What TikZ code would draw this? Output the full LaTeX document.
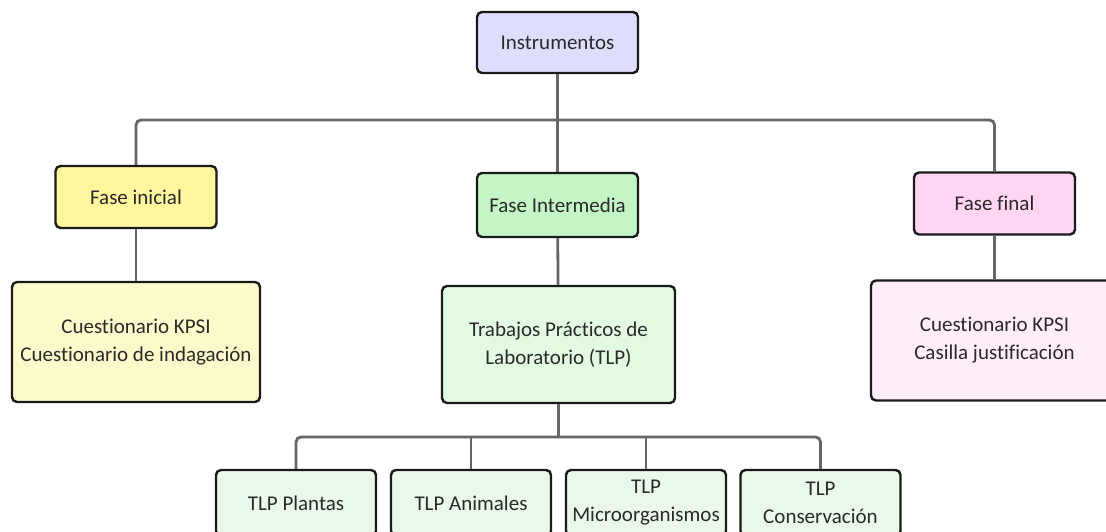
\documentclass[tikz,border=0pt]{standalone}
\usepackage{fontspec}
\setmainfont{Carlito}[Ligatures=NoCommon]
\usepackage{tikz}

\definecolor{insfill}{HTML}{DEDEFC}
\definecolor{inifill}{HTML}{FFF69E}
\definecolor{medfill}{HTML}{C3F5C6}
\definecolor{finfill}{HTML}{FFD5F3}
\definecolor{inilight}{HTML}{FCFACA}
\definecolor{medlight}{HTML}{E2F9E2}
\definecolor{finlight}{HTML}{FFEDF8}
\definecolor{leaffill}{HTML}{EAF8EA}
\definecolor{boxline}{HTML}{1A1A1A}
\definecolor{linkgray}{HTML}{666666}
\definecolor{textgray}{HTML}{2A2A2A}

\tikzset{
    box/.style={draw=boxline,line width=2.4pt,rounded corners=5pt,align=center,
        text=textgray,font=\fontsize{21}{28}\selectfont},
    phasebox/.style={box,minimum width=161pt,minimum height=62pt},
    toolbox/.style={box,minimum width=247pt,minimum height=120pt},
    leafbox/.style={box,fill=leaffill,minimum width=160pt,minimum height=66pt},
    link/.style={draw=linkgray,line width=2.8pt,rounded corners=5pt}
}

\begin{document}
\begin{tikzpicture}[x=1pt,y=1pt,node distance=160pt]
    \useasboundingbox (0,0) rectangle (1106,-532);

    \node[phasebox,fill=insfill,minimum height=61pt] (ins) at (557.5,-42.5) {Instrumentos};
    \node[phasebox,fill=medfill,minimum height=64pt,below of=ins,yshift=-2.5pt] (med) {Fase Intermedia};
    \node[phasebox,fill=inifill,left of=med,xshift=-261.5pt,yshift=8pt] (ini) {Fase inicial};
    \node[phasebox,fill=finfill,right of=med,xshift=277pt,yshift=1.5pt] (fin) {Fase final};
    \node[toolbox,fill=inilight,minimum width=248pt,below of=ini,yshift=15pt] (kpsiA) {Cuestionario KPSI\\Cuestionario de indagación};
    \node[toolbox,fill=medlight,minimum width=233pt,minimum height=117pt,below of=med,xshift=1pt,yshift=20.5pt] (tlp) {Trabajos Prácticos de\\Laboratorio (TLP)};
    \node[toolbox,fill=finlight,below of=fin,yshift=23pt] (kpsiB) {Cuestionario KPSI\\Casilla justificación};
    \node[leafbox,below of=tlp,xshift=-262.5pt,yshift=1.5pt] (pla) {TLP Plantas};
    \node[leafbox,right of=pla,xshift=15pt] (ani) {TLP Animales};
    \node[leafbox,right of=ani,xshift=15pt] (mic) {TLP\\Microorganismos};
    \node[leafbox,right of=mic,xshift=14.5pt] (con) {TLP\\Conservación};

    \coordinate (hub) at (557.5,-120);
    \coordinate (sub) at (558.5,-437);

    %% phases
    \draw[link] (ins) -- (med);
    \draw[link] (ini) |- (hub) -| (fin);
    %% tools
    \draw[link] (ini) -- (kpsiA);
    \draw[link] (med) -- (tlp);
    \draw[link] (fin) -- (kpsiB);
    %% lab work
    \draw[link] (tlp) -- (sub);
    \draw[link] (pla) |- (sub) -| (con);
    \draw[link] (ani) -- (ani |- sub);
    \draw[link] (mic) -- (mic |- sub);
\end{tikzpicture}
\end{document}
